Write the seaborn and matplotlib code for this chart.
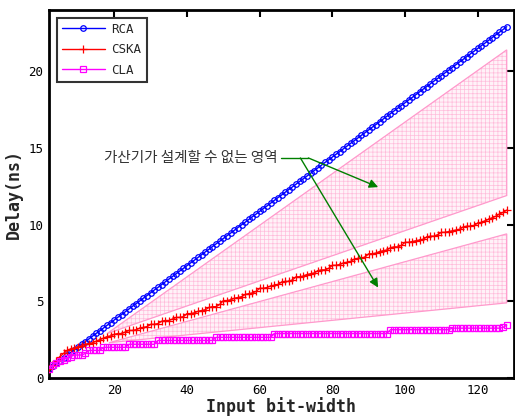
import matplotlib
matplotlib.use("Agg")
import matplotlib.pyplot as plt
import seaborn as sns
import pandas as pd
import numpy as np

bits = list(range(2, 129))

rca = [0.60, 0.78, 0.96, 1.14, 1.31, 1.49, 1.67, 1.84, 2.02, 2.20,
       2.37, 2.55, 2.73, 2.91, 3.08, 3.26, 3.44, 3.61, 3.79, 3.97,
       4.14, 4.32, 4.50, 4.68, 4.85, 5.03, 5.21, 5.38, 5.56, 5.74,
       5.91, 6.09, 6.27, 6.45, 6.62, 6.80, 6.98, 7.15, 7.33, 7.51,
       7.68, 7.86, 8.04, 8.22, 8.39, 8.57, 8.75, 8.92, 9.10, 9.28,
       9.45, 9.63, 9.81, 9.99, 10.16, 10.34, 10.52, 10.69, 10.87, 11.05,
       11.22, 11.40, 11.58, 11.76, 11.93, 12.11, 12.29, 12.46, 12.64, 12.82,
       12.99, 13.17, 13.35, 13.53, 13.70, 13.88, 14.06, 14.23, 14.41, 14.59,
       14.76, 14.94, 15.12, 15.30, 15.47, 15.65, 15.83, 16.00, 16.18, 16.36,
       16.53, 16.71, 16.89, 17.07, 17.24, 17.42, 17.60, 17.77, 17.95, 18.13,
       18.30, 18.48, 18.66, 18.84, 19.01, 19.19, 19.37, 19.54, 19.72, 19.90,
       20.07, 20.25, 20.43, 20.61, 20.78, 20.96, 21.14, 21.31, 21.49, 21.67,
       21.84, 22.02, 22.20, 22.38, 22.55, 22.73, 22.91]

cska = [0.60, 0.85, 1.10, 1.40, 1.60, 1.80, 1.90, 1.95, 2.05, 2.10,
        2.20, 2.25, 2.30, 2.40, 2.50, 2.60, 2.70, 2.75, 2.85, 2.90,
        2.90, 3.00, 3.10, 3.10, 3.15, 3.25, 3.30, 3.35, 3.50, 3.50,
        3.55, 3.70, 3.75, 3.75, 3.85, 3.95, 3.95, 4.00, 4.20, 4.20,
        4.25, 4.35, 4.40, 4.45, 4.60, 4.65, 4.65, 4.80, 5.05, 5.05,
        5.10, 5.20, 5.25, 5.30, 5.45, 5.50, 5.55, 5.65, 5.85, 5.85,
        5.90, 6.00, 6.05, 6.10, 6.25, 6.30, 6.30, 6.40, 6.60, 6.60,
        6.65, 6.75, 6.80, 6.85, 7.00, 7.05, 7.05, 7.15, 7.35, 7.35,
        7.40, 7.50, 7.55, 7.60, 7.75, 7.80, 7.80, 7.90, 8.10, 8.10,
        8.15, 8.25, 8.30, 8.35, 8.50, 8.55, 8.55, 8.65, 8.85, 8.85,
        8.90, 8.95, 9.00, 9.05, 9.20, 9.25, 9.25, 9.35, 9.50, 9.50,
        9.55, 9.60, 9.65, 9.70, 9.85, 9.90, 9.90, 9.95, 10.10, 10.15,
        10.25, 10.35, 10.45, 10.55, 10.70, 10.80, 10.95]

cla = ([0.60, 0.85, 1.00, 1.10, 1.20, 1.30, 1.40, 1.50, 1.50, 1.50,
        1.60, 1.80, 1.80, 1.80, 1.80]
       + [2.00] * 7 + [2.20] * 8 + [2.45] * 16 + [2.65] * 16
       + [2.90] * 32 + [3.15] * 17 + [3.25] * 14 + [3.30, 3.45])

# infeasible regions (triangles): (x, y) vertices
region_upper_x = [18, 128, 128]
region_upper_y = [2.9, 21.4, 11.9]
region_lower_x = [18.5, 128, 128]
region_lower_y = [2.3, 9.4, 4.9]

annot_text = "가산기가 설계할 수 없는 영역"

sns.set_theme(style="white")
plt.rcParams['font.family'] = ['DejaVu Sans Mono', 'DejaVu Sans']
plt.rcParams['hatch.linewidth'] = 0.5

fig = plt.figure(figsize=(5.15, 4.17), dpi=100)
ax = fig.add_axes([49 / 515, 1 - 378 / 417, 465 / 515, 368 / 417])

pink = '#ff99cc'
for xs, ys in [(region_upper_x, region_upper_y), (region_lower_x, region_lower_y)]:
    ax.fill(xs, ys, facecolor='#fff2f8', edgecolor='#ffbcdb', hatch='++++', linewidth=0.0, zorder=1)
    ax.fill(xs, ys, facecolor='none', edgecolor=pink, linewidth=0.9, zorder=1.5)

df = pd.DataFrame({'bits': bits * 3,
                   'delay': rca + cska + cla,
                   'adder': ['RCA'] * len(bits) + ['CSKA'] * len(bits) + ['CLA'] * len(bits)})

colors = {'RCA': '#0000ff', 'CSKA': '#ff0000', 'CLA': '#ff00ff'}
markers = {'RCA': 'o', 'CSKA': '+', 'CLA': 's'}
msizes = {'RCA': 4, 'CSKA': 6, 'CLA': 4}
for name in ['RCA', 'CSKA', 'CLA']:
    sub = df[df['adder'] == name]
    c = colors[name]
    sns.lineplot(data=sub, x='bits', y='delay', ax=ax, label=name,
                 color=c, linewidth=1.0, zorder=3,
                 marker=markers[name], markersize=msizes[name],
                 markerfacecolor='none', markeredgecolor=c, markeredgewidth=0.9)

green = '#008000'
ax.plot([65.8, 73.4], [14.35, 14.35], color=green, lw=1.0, zorder=4)
ax.annotate('', xy=(92.6, 12.45), xytext=(73.4, 14.35),
            arrowprops=dict(arrowstyle='-|>', color=green, lw=1.0,
                            mutation_scale=13, shrinkA=0, shrinkB=0), zorder=4)
ax.annotate('', xy=(92.6, 5.9), xytext=(71.2, 14.35),
            arrowprops=dict(arrowstyle='-|>', color=green, lw=1.0,
                            mutation_scale=13, shrinkA=0, shrinkB=0), zorder=4)
ax.text(65.0, 14.35, annot_text, ha='right', va='center', fontsize=10.5,
        color='#333333', family=['Noto Sans CJK KR', 'DejaVu Sans'])

ax.set_xlim(2, 130)
ax.set_ylim(0, 24)
ax.set_xticks([20, 40, 60, 80, 100, 120])
ax.set_yticks([0, 5, 10, 15, 20])
ax.tick_params(direction='in', length=5, width=1.5, top=True, right=True,
               labelsize=9, pad=4, colors='black')
for s in ax.spines.values():
    s.set_linewidth(2)
    s.set_color('black')
ax.set_xlabel('Input bit-width', fontsize=12, fontweight='bold', labelpad=0)
ax.set_ylabel('Delay(ns)', fontsize=12, fontweight='bold', labelpad=4)

leg = ax.legend(loc='upper left', fontsize=9, frameon=True, fancybox=False,
                handlelength=3.5, borderaxespad=0.6, handletextpad=0.5,
                labelspacing=0.6, borderpad=0.4)
leg.get_frame().set_edgecolor('black')
leg.get_frame().set_linewidth(1.5)

fig.savefig('out.png', dpi=100)
